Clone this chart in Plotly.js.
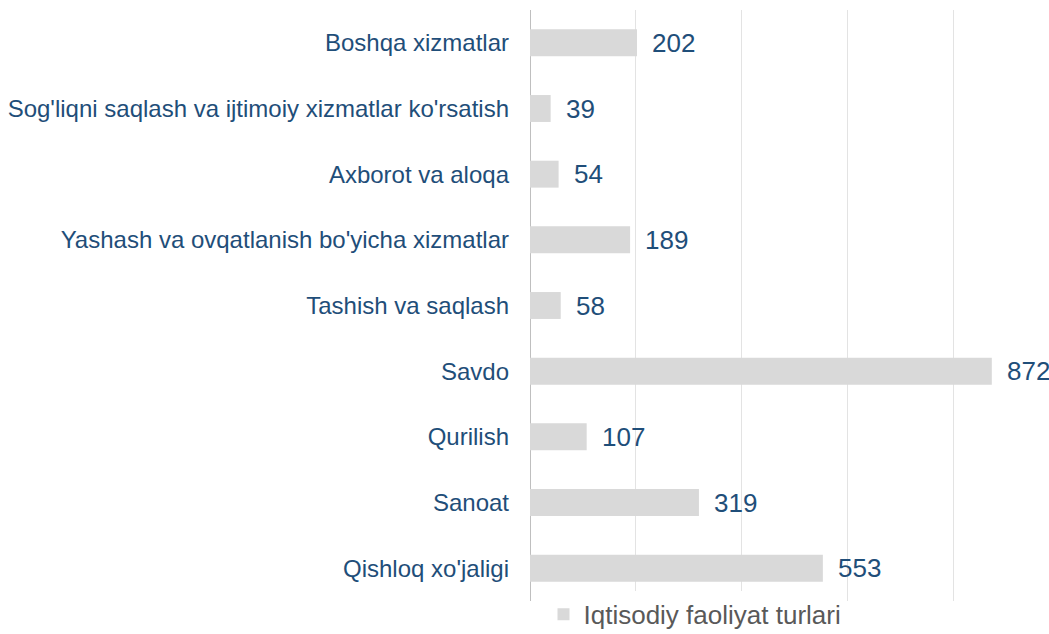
<!DOCTYPE html>
<html>
<head>
<meta charset="utf-8">
<script src="https://cdn.plot.ly/plotly-3.0.1.min.js"></script>
<style>html,body{margin:0;padding:0;background:#fff;overflow:hidden}</style>
</head>
<body>
<div id="chart" style="width:1049px;height:634px"></div>
<script>
const categories = ["Qishloq xo'jaligi", "Sanoat", "Qurilish", "Savdo", "Tashish va saqlash",
  "Yashash va ovqatlanish bo'yicha xizmatlar", "Axborot va aloqa",
  "Sog'liqni saqlash va ijtimoiy xizmatlar ko'rsatish", "Boshqa xizmatlar"];
const values = [553, 319, 107, 872, 58, 189, 54, 39, 202];
const seriesName = "Iqtisodiy faoliyat turlari";

const FONT = '"Liberation Sans", Arial, sans-serif';

const trace = {
  type: 'bar', orientation: 'h',
  x: values, y: categories, name: seriesName,
  marker: {color: '#d9d9d9'},
  hoverinfo: 'x+y'
};

const annotations = values.map((v, i) => ({
  x: v, y: categories[i], xref: 'x', yref: 'y',
  text: String(v), showarrow: false, xanchor: 'left', yanchor: 'middle',
  xshift: 13, font: {family: FONT, size: 26, color: '#1f4e79'}
}));

const layout = {
  width: 1049, height: 634,
  margin: {l: 530, r: 0, t: 10, b: 33, pad: 0, autoexpand: false},
  paper_bgcolor: '#fff', plot_bgcolor: '#fff',
  bargap: 0.59,
  showlegend: true,
  legend: {orientation: 'h', x: 0.026, xanchor: 'left', y: 0.017, yanchor: 'top',
    font: {family: FONT, size: 26, color: '#595959'},
    itemwidth: 30},
  xaxis: {range: [0, 980], dtick: 200, tick0: 0, showticklabels: false, showgrid: true,
    gridcolor: '#e3e3e3', gridwidth: 1, zeroline: true, zerolinecolor: '#bfbfbf', zerolinewidth: 1,
    showline: false, ticks: '', fixedrange: true, automargin: false},
  yaxis: {type: 'category', categoryorder: 'array', categoryarray: categories,
    showgrid: false, zeroline: false, showline: false, ticks: '', ticklabelstandoff: 20,
    automargin: false,
    tickfont: {family: FONT, size: 24, color: '#1f4e79'}},
  annotations: annotations,
  font: {family: FONT}
};

Plotly.newPlot('chart', [trace], layout, {displayModeBar: false, staticPlot: true});
</script>
</body>
</html>
